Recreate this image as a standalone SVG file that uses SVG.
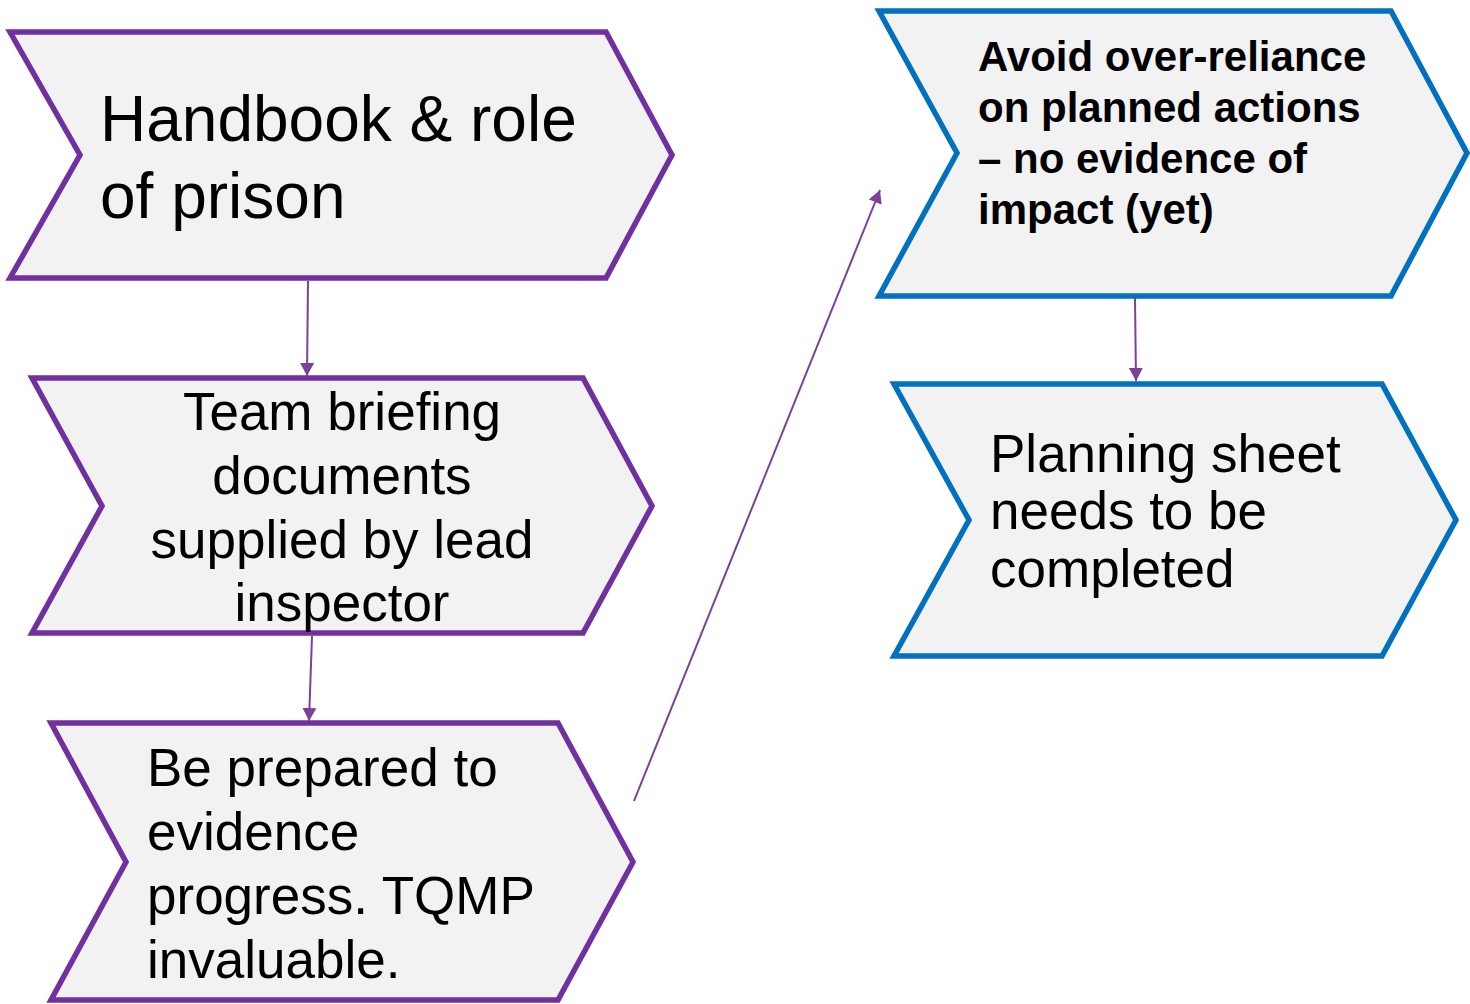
<svg xmlns="http://www.w3.org/2000/svg" width="1470" height="1004" viewBox="0 0 1470 1004">
<style>
.p{fill:#F2F2F2;stroke:#7030A0;stroke-width:5.5;stroke-linejoin:miter}
.b{fill:#F2F2F2;stroke:#0070C0;stroke-width:5.5;stroke-linejoin:miter}
.t{font-family:"Liberation Sans",Arial,sans-serif;fill:#000}
.c{stroke:#7E3F98;stroke-width:2;fill:none}
</style>
<defs>
<marker id="ah" viewBox="0 0 13 14" refX="13" refY="7" markerWidth="13" markerHeight="14" markerUnits="userSpaceOnUse" orient="auto">
<path d="M0,0 L13,7 L0,14 Z" fill="#7E3F98"/>
</marker>
</defs>
<rect width="1470" height="1004" fill="#fff"/>
<g id="n1">
<polygon class="p" points="10,32 606,32 672,155 606,278 10,278 80,155"/>
<text class="t" font-size="64" x="100" y="141">Handbook &amp; role</text>
<text class="t" font-size="64" x="100" y="218">of prison</text>
</g>
<g id="n2">
<polygon class="p" points="32,378 583,378 652,506 583,633 32,633 102,506"/>
<text class="t" font-size="53" text-anchor="middle" x="342" y="430">Team briefing</text>
<text class="t" font-size="53" text-anchor="middle" x="342" y="494">documents</text>
<text class="t" font-size="53" text-anchor="middle" x="342" y="558">supplied by lead</text>
<text class="t" font-size="53" text-anchor="middle" x="342" y="621">inspector</text>
</g>
<g id="n3">
<polygon class="p" points="51,723 558,723 633,862 558,1000 51,1000 126,862"/>
<text class="t" font-size="53" x="147" y="786">Be prepared to</text>
<text class="t" font-size="53" x="147" y="850">evidence</text>
<text class="t" font-size="53" x="147" y="914">progress. TQMP</text>
<text class="t" font-size="53" x="147" y="978">invaluable.</text>
</g>
<g id="n4">
<polygon class="b" points="879,11 1391,11 1467,153 1391,296 879,296 957,153"/>
<text class="t" font-size="42" font-weight="bold" x="978" y="71">Avoid over-reliance</text>
<text class="t" font-size="42" font-weight="bold" x="978" y="122">on planned actions</text>
<text class="t" font-size="42" font-weight="bold" x="978" y="173">– no evidence of</text>
<text class="t" font-size="42" font-weight="bold" x="978" y="224">impact (yet)</text>
</g>
<g id="n5">
<polygon class="b" points="894,384 1382,384 1456,520 1382,656 894,656 969,520"/>
<text class="t" font-size="53" x="990" y="472">Planning sheet</text>
<text class="t" font-size="53" x="990" y="529">needs to be</text>
<text class="t" font-size="53" x="990" y="587">completed</text>
</g>
<g id="connectors">
<line class="c" x1="308" y1="281" x2="307" y2="376" marker-end="url(#ah)"/>
<line class="c" x1="312" y1="636" x2="309" y2="721" marker-end="url(#ah)"/>
<line class="c" x1="634" y1="801" x2="880" y2="190" marker-end="url(#ah)"/>
<line class="c" x1="1135" y1="298" x2="1136" y2="381" marker-end="url(#ah)"/>
</g>
</svg>
